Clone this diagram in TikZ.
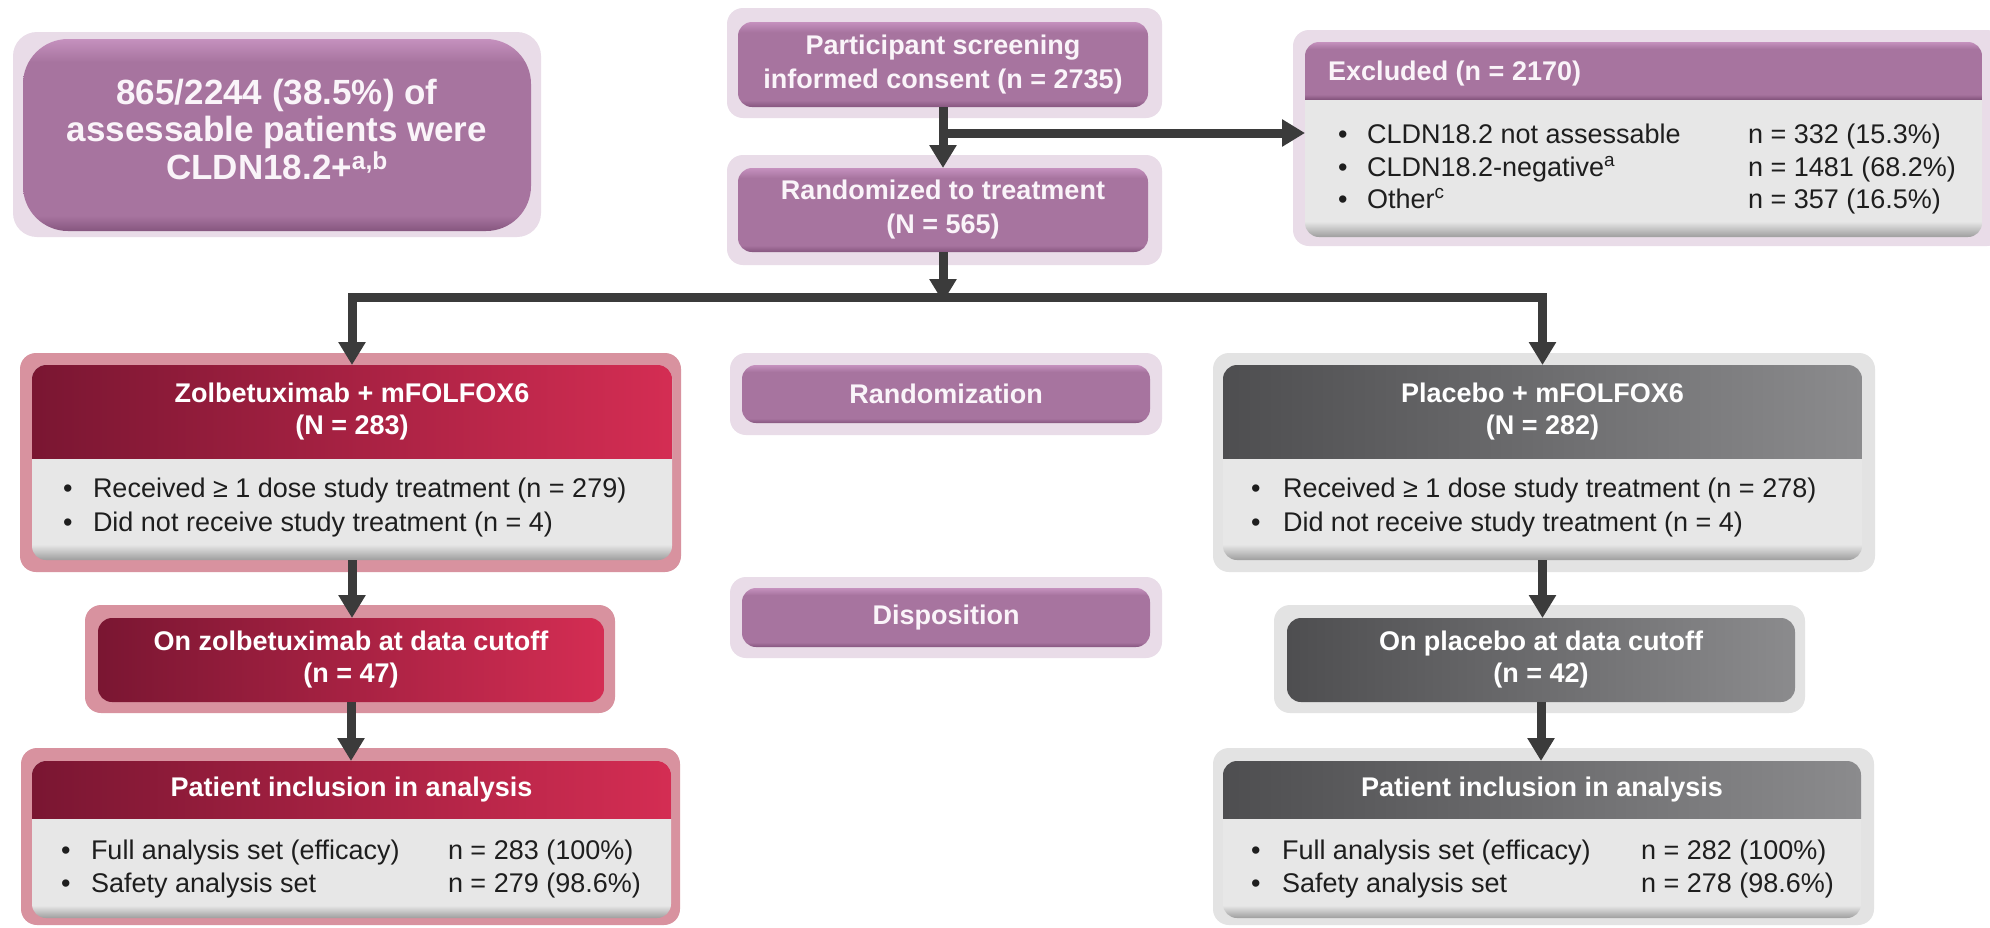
\documentclass[tikz,border=0pt]{standalone}
\usepackage{fontspec}
\setmainfont{Liberation Sans}
\usetikzlibrary{arrows.meta}
\definecolor{arrowc}{HTML}{3B3B3B}
\definecolor{purp}{HTML}{A7749F}
\definecolor{purptop}{HTML}{C591BE}
\definecolor{purpbot}{HTML}{86567F}
\definecolor{purphalo}{HTML}{E9DCE8}
\definecolor{redL}{HTML}{7A1632}
\definecolor{redR}{HTML}{D42D53}
\definecolor{redhalo}{HTML}{D8929F}
\definecolor{grayL}{HTML}{4E4E50}
\definecolor{grayR}{HTML}{8B8B8D}
\definecolor{grayhalo}{HTML}{E3E3E3}
\definecolor{bodyc}{HTML}{E7E7E7}
\definecolor{bodyshadow}{HTML}{9E9E9E}
\definecolor{txtdark}{HTML}{1E1E1E}
\definecolor{txtlight}{HTML}{FAF4F9}
\pgfdeclareverticalshading{purpsh}{100bp}{color(0bp)=(purpbot); color(25bp)=(purpbot); color(29bp)=(purp); color(69bp)=(purp); color(75bp)=(purptop); color(100bp)=(purptop)}
\pgfdeclareverticalshading{bodysh}{100bp}{color(0bp)=(bodyshadow); color(25bp)=(bodyshadow); color(29bp)=(bodyc); color(100bp)=(bodyc)}
\tikzset{
  base/.style={rectangle, inner sep=0pt, outer sep=0pt, anchor=north west},
  halo/.style={base, rounded corners=16pt},
  phalo/.style={halo, fill=purphalo},
  rhalo/.style={halo, fill=redhalo},
  ghalo/.style={halo, fill=grayhalo},
  pbox/.style={base, rounded corners=14pt, shade, shading=purpsh, text=txtlight, align=center, font=\bfseries\fontsize{27}{34}\selectfont},
  bodybox/.style={base, rounded corners=14pt, shade, shading=bodysh},
  headtext/.style={text=white, align=center, font=\bfseries\fontsize{27}{32}\selectfont},
  redhead/.style={base, left color=redL, right color=redR, headtext},
  grayhead/.style={base, left color=grayL, right color=grayR, headtext},
  redcut/.style={redhead, rounded corners=14pt},
  graycut/.style={grayhead, rounded corners=14pt},
  bodytext/.style={anchor=base west, inner sep=0pt, outer sep=0pt, text=txtdark, font=\fontsize{27}{33}\selectfont},
  conn/.style={draw=arrowc, line width=9pt, line join=miter, -{Triangle[width=26pt,length=23pt]}},
}
\begin{document}
\begin{tikzpicture}[x=1pt,y=-1pt]
\fill[white] (0,0) rectangle (1990,927);
\useasboundingbox (0,0) rectangle (1990,927);

% info box
\node[phalo, rounded corners=24pt, minimum width=528pt, minimum height=205pt] (infohalo) at (13,32) {};
\node[pbox, rounded corners=45pt, minimum width=508pt, minimum height=192pt] (info) at (23,39) {};
\node[inner sep=0pt, text=txtlight, align=center, font=\bfseries\fontsize{35}{37.5}\selectfont] (infotext) at (277,129) {865/2244 (38.5\%) of\\assessable patients were\\CLDN18.2+\textsuperscript{a,b}};

% screening and randomized
\node[phalo, minimum width=435pt, minimum height=110pt] (screenhalo) at (727,8) {};
\node[pbox, minimum width=410pt, minimum height=85pt] (screen) at (738,22) {Participant screening\\informed consent (n = 2735)};
\node[phalo, minimum width=435pt, minimum height=110pt] (randhalo) at (727,155) {};
\node[pbox, minimum width=410pt, minimum height=84pt] (rand) at (738,168) {Randomized to treatment\\(N = 565)};

% excluded
\node[phalo, minimum width=710pt, minimum height=216pt] (exclhalo) at (1293,30) {};
\node[bodybox, minimum width=677pt, minimum height=195pt] (excl) at (1305,42) {};
\begin{scope}
\clip[rounded corners=14pt] (excl.north west) rectangle (excl.south east);
\node[base, shade, shading=purpsh, minimum width=677pt, minimum height=57pt] (exclhead) at (1305,42) {};
\end{scope}
\node[anchor=base west, inner sep=0pt, text=txtlight, font=\bfseries\fontsize{27}{32}\selectfont] (exclt) at (1328,80) {Excluded (n = 2170)};
\node[bodytext] (exb1) at (1338,143) {•};
\node[bodytext] (ext1) at (1367,143) {CLDN18.2 not assessable};
\node[bodytext] (exn1) at (1748,143) {n = 332 (15.3\%)};
\node[bodytext] (exb2) at (1338,176) {•};
\node[bodytext] (ext2) at (1367,176) {CLDN18.2-negative\textsuperscript{a}};
\node[bodytext] (exn2) at (1748,176) {n = 1481 (68.2\%)};
\node[bodytext] (exb3) at (1338,208) {•};
\node[bodytext] (ext3) at (1367,208) {Other\textsuperscript{c}};
\node[bodytext] (exn3) at (1748,208) {n = 357 (16.5\%)};

% middle labels
\node[phalo, minimum width=432pt, minimum height=82pt] (randlabhalo) at (730,353) {};
\node[pbox, minimum width=408pt, minimum height=58pt] (randlab) at (742,365) {Randomization};
\node[phalo, minimum width=432pt, minimum height=81pt] (displabhalo) at (730,577) {};
\node[pbox, minimum width=408pt, minimum height=59pt] (displab) at (742,588) {Disposition};

% zolbetuximab arm
\node[rhalo, minimum width=661pt, minimum height=219pt] (zolgrphalo) at (20,353) {};
\node[bodybox, minimum width=640pt, minimum height=195pt] (zolgrp) at (32,365) {};
\begin{scope}
\clip[rounded corners=14pt] (zolgrp.north west) rectangle (zolgrp.south east);
\node[redhead, minimum width=640pt, minimum height=93pt] (zolhead) at (32,365) {Zolbetuximab + mFOLFOX6\\(N = 283)};
\end{scope}
\node[bodytext] (zgb1) at (63,497) {•};
\node[bodytext] (zgt1) at (93,497) {Received ≥ 1 dose study treatment (n = 279)};
\node[bodytext] (zgb2) at (63,531) {•};
\node[bodytext] (zgt2) at (93,531) {Did not receive study treatment (n = 4)};

\node[rhalo, minimum width=530pt, minimum height=108pt] (zolcuthalo) at (85,605) {};
\node[redcut, minimum width=506pt, minimum height=84pt] (zolcut) at (98,618) {On zolbetuximab at data cutoff\\(n = 47)};

\node[rhalo, minimum width=659pt, minimum height=177pt] (zolinchalo) at (21,748) {};
\node[bodybox, minimum width=639pt, minimum height=157pt] (zolinc) at (32,761) {};
\begin{scope}
\clip[rounded corners=14pt] (zolinc.north west) rectangle (zolinc.south east);
\node[redhead, minimum width=639pt, minimum height=57pt] (zolinchead) at (32,761) {Patient inclusion in analysis};
\end{scope}
\node[bodytext] (zib1) at (61,859) {•};
\node[bodytext] (zit1) at (91,859) {Full analysis set (efficacy)};
\node[bodytext] (zin1) at (448,859) {n = 283 (100\%)};
\node[bodytext] (zib2) at (61,892) {•};
\node[bodytext] (zit2) at (91,892) {Safety analysis set};
\node[bodytext] (zin2) at (448,892) {n = 279 (98.6\%)};

% placebo arm
\node[ghalo, minimum width=662pt, minimum height=219pt] (plgrphalo) at (1213,353) {};
\node[bodybox, minimum width=639pt, minimum height=195pt] (plgrp) at (1223,365) {};
\begin{scope}
\clip[rounded corners=14pt] (plgrp.north west) rectangle (plgrp.south east);
\node[grayhead, minimum width=639pt, minimum height=93pt] (plhead) at (1223,365) {Placebo + mFOLFOX6\\(N = 282)};
\end{scope}
\node[bodytext] (pgb1) at (1251,497) {•};
\node[bodytext] (pgt1) at (1283,497) {Received ≥ 1 dose study treatment (n = 278)};
\node[bodytext] (pgb2) at (1251,531) {•};
\node[bodytext] (pgt2) at (1283,531) {Did not receive study treatment (n = 4)};

\node[ghalo, minimum width=531pt, minimum height=108pt] (plcuthalo) at (1274,605) {};
\node[graycut, minimum width=508pt, minimum height=84pt] (plcut) at (1287,618) {On placebo at data cutoff\\(n = 42)};

\node[ghalo, minimum width=661pt, minimum height=177pt] (plinchalo) at (1213,748) {};
\node[bodybox, minimum width=638pt, minimum height=157pt] (plinc) at (1223,761) {};
\begin{scope}
\clip[rounded corners=14pt] (plinc.north west) rectangle (plinc.south east);
\node[grayhead, minimum width=638pt, minimum height=57pt] (plinchead) at (1223,761) {Patient inclusion in analysis};
\end{scope}
\node[bodytext] (pib1) at (1251,859) {•};
\node[bodytext] (pit1) at (1282,859) {Full analysis set (efficacy)};
\node[bodytext] (pin1) at (1641,859) {n = 282 (100\%)};
\node[bodytext] (pib2) at (1251,892) {•};
\node[bodytext] (pit2) at (1282,892) {Safety analysis set};
\node[bodytext] (pin2) at (1641,892) {n = 278 (98.6\%)};

% connectors
\coordinate (branch) at (943,133);
\coordinate (split) at (943,302);
\draw[conn] (screen.south) -- (rand.north);
\draw[conn] (branch) -- (branch -| excl.west);
\draw[conn] (rand.south) -- (split);
\draw[conn] ([yshift=4.5pt]split) -| (zolgrp.north);
\draw[conn] ([yshift=4.5pt]split) -| (plgrp.north);
\draw[conn] (zolgrp.south) -- (zolgrp.south |- zolcut.north);
\draw[conn] (zolcut.south) -- (zolcut.south |- zolinc.north);
\draw[conn] (plgrp.south) -- (plgrp.south |- plcut.north);
\draw[conn] (plcut.south) -- (plcut.south |- plinc.north);
\end{tikzpicture}
\end{document}
